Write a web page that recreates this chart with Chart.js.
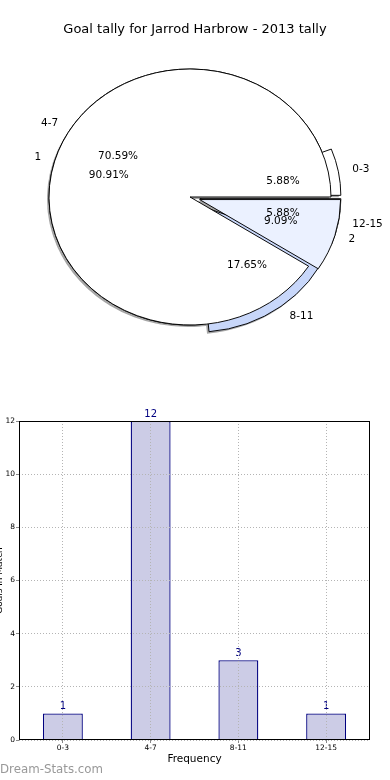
<!DOCTYPE html>
<html>
<head>
<meta charset="utf-8">
<script src="https://cdn.jsdelivr.net/npm/chart.js@4.4.0/dist/chart.umd.min.js"></script>
<style>
  body { margin: 0; background: #fff; }
  #wrap { position: relative; width: 390px; height: 780px; overflow: hidden; }
  canvas { position: absolute; left: 0; }
</style>
</head>
<body>
<div id="wrap">
  <canvas id="pieBack" width="390" height="400" style="top:0"></canvas>
  <canvas id="pieFront" width="390" height="400" style="top:0"></canvas>
  <canvas id="bars" width="390" height="380" style="top:400px"></canvas>
</div>
<script>
// data
const groups = ["0-3", "4-7", "8-11", "12-15"];
const tally = [1, 12, 3, 1];
const gameLabels = ["1", "2"];
const gameCounts = [10, 1];
const chartTitle = "Goal tally for Jarrod Harbrow - 2013 tally";

// styling
const groupColors = ["#ffffff", "#ffffff", "#c8d7fa", "#ffffff"];
const gameColors = ["#ffffff", "#ebf1ff"];
const explodeGroups = [10, 0, 10, 10];
const explodeGames = [0, 10];
const RX = 141, RY = 128;
const squash = RY / RX; // pie is drawn as an ellipse, like the original

Chart.defaults.font.family = "'DejaVu Sans', sans-serif";
Chart.defaults.color = "#000";

let backChart = null, frontChart = null;

function arcsOf(chart) { return chart.getDatasetMeta(0).data; }
function midAngle(arc) { return (arc.startAngle + arc.endAngle) / 2; }

// flip + squash around the centre, so slices run anticlockwise from 3 o'clock
function flatten(ctx, arc) {
  ctx.translate(arc.x, arc.y);
  ctx.scale(1, -squash);
  ctx.translate(-arc.x, -arc.y);
}

function paintShadows(ctx, sets) {
  ctx.save();
  ctx.translate(-2, 2);
  flatten(ctx, arcsOf(sets[0][0])[0]);
  ctx.beginPath();
  sets.forEach(([chart, explode]) => {
    arcsOf(chart).forEach((arc, i) => {
      const m = midAngle(arc);
      const x = arc.x + Math.cos(m) * explode[i];
      const y = arc.y + Math.sin(m) * explode[i];
      ctx.moveTo(x, y);
      ctx.arc(x, y, arc.outerRadius, arc.startAngle, arc.endAngle);
      ctx.closePath();
    });
  });
  ctx.fillStyle = "rgba(77,77,77,0.5)";
  ctx.fill();
  ctx.restore();
}

function paintWedges(chart, explode) {
  const ctx = chart.ctx;
  const arcs = arcsOf(chart);
  ctx.save();
  flatten(ctx, arcs[0]);
  arcs.forEach((arc, i) => {
    const m = midAngle(arc);
    ctx.save();
    ctx.translate(Math.cos(m) * explode[i], Math.sin(m) * explode[i]);
    arc.draw(ctx);
    ctx.restore();
  });
  ctx.restore();
}

function paintLabels(ctx, chart, names, values, explode) {
  const total = values.reduce((a, b) => a + b, 0);
  ctx.save();
  ctx.font = "10.5px 'DejaVu Sans'";
  ctx.fillStyle = "#000";
  ctx.textBaseline = "middle";
  arcsOf(chart).forEach((arc, i) => {
    const m = midAngle(arc);
    const at = (f) => {
      const d = arc.outerRadius * f + explode[i];
      return [arc.x + Math.cos(m) * d, arc.y - squash * Math.sin(m) * d];
    };
    const [lx, ly] = at(1.1);
    ctx.textAlign = Math.cos(m) > 0 ? "left" : "right";
    ctx.fillText(names[i], lx, ly);
    const [px, py] = at(0.6);
    ctx.textAlign = "center";
    ctx.fillText((values[i] / total * 100).toFixed(2) + "%", px, py);
  });
  ctx.restore();
}

function pieConfig(labels, values, colors, plugin) {
  return {
    type: "pie",
    data: {
      labels: labels,
      datasets: [{ data: values, backgroundColor: colors, borderColor: "#000", borderWidth: 1 }]
    },
    options: {
      responsive: false,
      animation: false,
      events: [],
      rotation: 90,
      radius: RX,
      layout: { padding: { top: 38, bottom: 44, left: 0, right: 10 } },
      plugins: {
        legend: { display: false },
        tooltip: { enabled: false }
      }
    },
    plugins: [plugin]
  };
}

backChart = new Chart(document.getElementById("pieBack"), pieConfig(
  groups, tally, groupColors,
  {
    id: "backPie",
    beforeDatasetsDraw(chart) {
      const sets = [[chart, explodeGroups]];
      if (frontChart) sets.push([frontChart, explodeGames]);
      paintShadows(chart.ctx, sets);
      paintWedges(chart, explodeGroups);
      return false;
    }
  }
));

frontChart = new Chart(document.getElementById("pieFront"), pieConfig(
  gameLabels, gameCounts, gameColors,
  {
    id: "frontPie",
    beforeDatasetsDraw(chart) {
      paintWedges(chart, explodeGames);
      return false;
    },
    afterDraw(chart) {
      const ctx = chart.ctx;
      paintLabels(ctx, backChart, groups, tally, explodeGroups);
      paintLabels(ctx, chart, gameLabels, gameCounts, explodeGames);
      // figure title, centred on the whole figure
      ctx.save();
      ctx.font = "13px 'DejaVu Sans'";
      ctx.fillStyle = "#000";
      ctx.textAlign = "center";
      ctx.textBaseline = "middle";
      ctx.fillText(chartTitle, chart.width / 2, 30);
      ctx.restore();
    }
  }
));
backChart.draw(); // now with both shadows underneath

const barExtras = {
  id: "barExtras",
  afterDatasetsDraw(chart) {
    const ctx = chart.ctx;
    ctx.save();
    ctx.fillStyle = "#000080";
    ctx.font = "10px 'DejaVu Sans'";
    ctx.textAlign = "center";
    ctx.textBaseline = "bottom";
    chart.getDatasetMeta(0).data.forEach((bar, i) => {
      ctx.fillText(String(tally[i]), bar.x, bar.y - 2);
    });
    ctx.restore();
  },
  afterDraw(chart) {
    const { ctx, chartArea: a } = chart;
    ctx.save();
    ctx.strokeStyle = "#000";
    ctx.lineWidth = 1;
    ctx.strokeRect(Math.round(a.left) + 0.5, Math.round(a.top) + 0.5,
      Math.round(a.width) - 1, Math.round(a.height) - 1);
    ctx.fillStyle = "#999999";
    ctx.font = "11.8px 'DejaVu Sans'";
    ctx.textAlign = "left";
    ctx.textBaseline = "middle";
    ctx.fillText("Dream-Stats.com", 0, 370);
    ctx.restore();
  }
};

const gridStyle = { color: "#b4b4b4", tickColor: "#888", tickLength: 3, tickBorderDash: [], z: 1 };

new Chart(document.getElementById("bars"), {
  type: "bar",
  data: {
    labels: groups,
    datasets: [{
      data: tally,
      backgroundColor: "rgb(204,204,230)",
      borderColor: "#000080",
      borderWidth: 1.3,
      barPercentage: 0.455,
      categoryPercentage: 1
    }]
  },
  options: {
    responsive: false,
    animation: false,
    events: [],
    layout: { padding: { top: 21, right: 20, left: 0, bottom: 0 } },
    plugins: { legend: { display: false }, tooltip: { enabled: false } },
    scales: {
      x: {
        grid: Object.assign({ offset: false }, gridStyle),
        border: { display: false, dash: [1, 2] },
        ticks: { font: { size: 7.5 }, color: "#000", padding: 1, maxRotation: 0 },
        title: { display: true, text: "Frequency", font: { size: 10.5 }, color: "#000", padding: { top: 0, bottom: 14 } },
        afterFit(scale) { scale.height = 40; }
      },
      y: {
        min: 0,
        max: 12,
        grid: gridStyle,
        border: { display: false, dash: [1, 2] },
        ticks: { stepSize: 2, font: { size: 7.5 }, color: "#000", padding: 1 },
        title: { display: true, text: "Goals in Match", font: { size: 9 }, color: "#000", padding: { top: -5.4, bottom: 0 } },
        afterFit(scale) { scale.width = 19; }
      }
    }
  },
  plugins: [barExtras]
});
</script>
</body>
</html>
